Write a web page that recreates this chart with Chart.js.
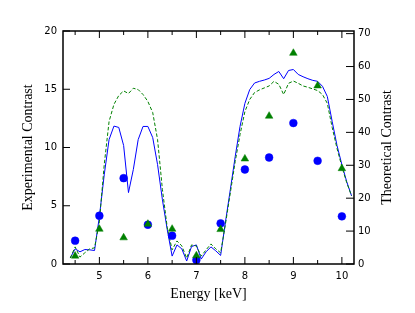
<!DOCTYPE html>
<html lang="en">
<head>
  <meta charset="UTF-8">
  <title>Contrast vs Energy</title>
  <script src="https://cdn.jsdelivr.net/npm/chart.js"></script>
  <style>
    body { margin: 0; background: #fff; }
  </style>
</head>
<body>
  <canvas id="graph" width="415" height="313"></canvas>

  <script>
    // Experimental points (left axis)
    const expEnergy = [4.5, 5.0, 5.5, 6.0, 6.5, 7.0, 7.5, 8.0, 8.5, 9.0, 9.5, 10.0];
    const expBlue = [2.0, 4.14, 7.37, 3.37, 2.43, 0.34, 3.49, 8.11, 9.14, 12.1, 8.86, 4.09];
    const expGreen = [0.69, 3.0, 2.26, 3.43, 3.0, 0.72, 2.97, 9.03, 12.7, 18.1, 15.3, 8.2];

    // Theoretical curves (right axis)
    const theoEnergy = [4.4, 4.5, 4.6, 4.7, 4.8, 4.9, 5.0, 5.1, 5.2, 5.3, 5.4, 5.5, 5.6, 5.7, 5.8, 5.9,
      6.0, 6.1, 6.2, 6.3, 6.4, 6.5, 6.6, 6.7, 6.8, 6.9, 7.0, 7.1, 7.2, 7.3, 7.4, 7.5, 7.6, 7.7, 7.8, 7.9,
      8.0, 8.1, 8.2, 8.3, 8.4, 8.5, 8.6, 8.7, 8.8, 8.9, 9.0, 9.1, 9.2, 9.3, 9.4, 9.5, 9.6, 9.7, 9.8, 9.9,
      10.0, 10.1, 10.2];
    const theoBlue = [1.9, 4.6, 3.7, 4.4, 4.3, 4.1, 14.4, 27.1, 37.8, 41.9, 41.5, 36.0, 21.7, 28.7, 37.8, 41.8,
      41.8, 38.4, 30.2, 19.5, 10.4, 2.4, 5.8, 4.6, 0.9, 5.3, 5.8, 1.5, 3.7, 5.2, 4.0, 2.6, 12.8, 22.6, 32.6, 41.8,
      48.8, 53.0, 55.0, 55.5, 55.9, 56.4, 57.6, 58.5, 56.3, 58.8, 59.1, 57.6, 56.9, 56.3, 55.8, 55.5, 54.0, 50.9, 43.3, 36.0,
      30.2, 25.0, 20.7];
    const theoGreen = [1.8, 5.2, 2.1, 3.4, 4.6, 4.9, 12.8, 30.2, 43.3, 48.5, 51.2, 52.6, 51.8, 53.4, 53.0, 51.5,
      49.4, 46.0, 37.8, 22.6, 11.0, 4.3, 7.0, 5.5, 1.8, 5.8, 5.5, 2.4, 4.3, 6.1, 4.6, 3.4, 12.2, 21.6, 31.1, 39.3,
      46.3, 50.0, 52.1, 52.9, 53.5, 54.1, 55.5, 54.6, 51.5, 54.9, 55.6, 54.9, 54.1, 53.7, 53.2, 52.7, 51.5, 48.8, 41.5, 35.1,
      29.6, 24.7, 20.7];

    const xTicks = [5, 6, 7, 8, 9, 10];
    const xMinorTicks = [4.5, 5.5, 6.5, 7.5, 8.5, 9.5];
    const yTicks = [0, 5, 10, 15, 20];
    const y2Ticks = [0, 10, 20, 30, 40, 50, 60, 70];

    const xTitle = "Energy [keV]";
    const yTitle = "Experimental Contrast";
    const y2Title = "Theoretical Contrast";

    const toPoints = (xs, ys) => xs.map((x, i) => ({ x: x, y: ys[i] }));

    // Marcos, ticks hacia dentro y títulos
    const framePlugin = {
      id: "frame",
      afterDraw(chart) {
        const { ctx, chartArea: a, scales } = chart;
        ctx.save();
        ctx.strokeStyle = "#000";
        ctx.lineWidth = 1.5;
        ctx.strokeRect(a.left, a.top, a.right - a.left, a.bottom - a.top);

        ctx.lineWidth = 1;
        ctx.beginPath();
        xTicks.forEach(v => {
          const px = scales.x.getPixelForValue(v);
          ctx.moveTo(px, a.bottom); ctx.lineTo(px, a.bottom - 7);
          ctx.moveTo(px, a.top); ctx.lineTo(px, a.top + 7);
        });
        xMinorTicks.forEach(v => {
          const px = scales.x.getPixelForValue(v);
          ctx.moveTo(px, a.bottom); ctx.lineTo(px, a.bottom - 4);
          ctx.moveTo(px, a.top); ctx.lineTo(px, a.top + 4);
        });
        yTicks.forEach(v => {
          const py = scales.y.getPixelForValue(v);
          ctx.moveTo(a.left, py); ctx.lineTo(a.left + 7, py);
        });
        y2Ticks.forEach(v => {
          const py = scales.y2.getPixelForValue(v);
          ctx.moveTo(a.right, py); ctx.lineTo(a.right - 8, py);
        });
        ctx.stroke();

        ctx.fillStyle = "#000";
        ctx.font = "14px 'Liberation Serif'";
        ctx.textAlign = "center";
        ctx.textBaseline = "middle";
        const cx = (a.left + a.right) / 2;
        const cy = (a.top + a.bottom) / 2;
        ctx.fillText(xTitle, cx, 294);

        ctx.save();
        ctx.translate(28, cy);
        ctx.rotate(-Math.PI / 2);
        ctx.fillText(yTitle, 0, 0);
        ctx.restore();

        ctx.save();
        ctx.translate(387, cy);
        ctx.rotate(-Math.PI / 2);
        ctx.fillText(y2Title, 0, 0);
        ctx.restore();

        ctx.restore();
      }
    };

    const tickFont = { family: "DejaVu Sans", size: 10 };

    new Chart(document.getElementById("graph").getContext("2d"), {
      type: "scatter",
      data: {
        datasets: [
          {
            label: "exp green",
            data: toPoints(expEnergy, expGreen),
            yAxisID: "y",
            pointStyle: "triangle",
            pointRadius: 4.4,
            backgroundColor: "#008000",
            borderColor: "#008000",
            borderWidth: 0.5,
            order: 1,
          },
          {
            label: "exp blue",
            data: toPoints(expEnergy, expBlue),
            yAxisID: "y",
            pointStyle: "circle",
            pointRadius: 3.9,
            backgroundColor: "#0000ff",
            borderColor: "#0000ff",
            borderWidth: 0.5,
            order: 2,
          },
          {
            label: "theo green",
            data: toPoints(theoEnergy, theoGreen),
            yAxisID: "y2",
            showLine: true,
            pointRadius: 0,
            borderColor: "#008000",
            borderWidth: 1,
            borderDash: [3.5, 2],
            order: 3,
          },
          {
            label: "theo blue",
            data: toPoints(theoEnergy, theoBlue),
            yAxisID: "y2",
            showLine: true,
            pointRadius: 0,
            borderColor: "#0000ff",
            borderWidth: 1,
            order: 4,
          },
        ],
      },
      options: {
        responsive: false,
        animation: false,
        layout: { padding: { top: 31, left: 0, right: 0, bottom: 0 } },
        plugins: {
          legend: { display: false },
          tooltip: { enabled: false },
        },
        scales: {
          x: {
            type: "linear",
            position: "bottom",
            min: 4.25,
            max: 10.25,
            grid: { display: false, drawTicks: false },
            border: { display: false },
            ticks: { color: "#000", font: tickFont, padding: 6 },
            afterBuildTicks: s => { s.ticks = xTicks.map(v => ({ value: v })); },
            afterFit: s => { s.height = 313 - 264; },
          },
          y: {
            position: "left",
            min: 0,
            max: 20,
            grid: { display: false, drawTicks: false },
            border: { display: false },
            ticks: { color: "#000", font: tickFont, padding: 6 },
            afterBuildTicks: s => { s.ticks = yTicks.map(v => ({ value: v })); },
            afterFit: s => { s.width = 63; },
          },
          y2: {
            position: "right",
            min: 0,
            max: 70.8,
            grid: { display: false, drawTicks: false },
            border: { display: false },
            ticks: { color: "#000", font: tickFont, padding: 4 },
            afterBuildTicks: s => { s.ticks = y2Ticks.map(v => ({ value: v })); },
            afterFit: s => { s.width = 415 - 354; },
          },
        },
      },
      plugins: [framePlugin],
    });
  </script>
</body>
</html>
